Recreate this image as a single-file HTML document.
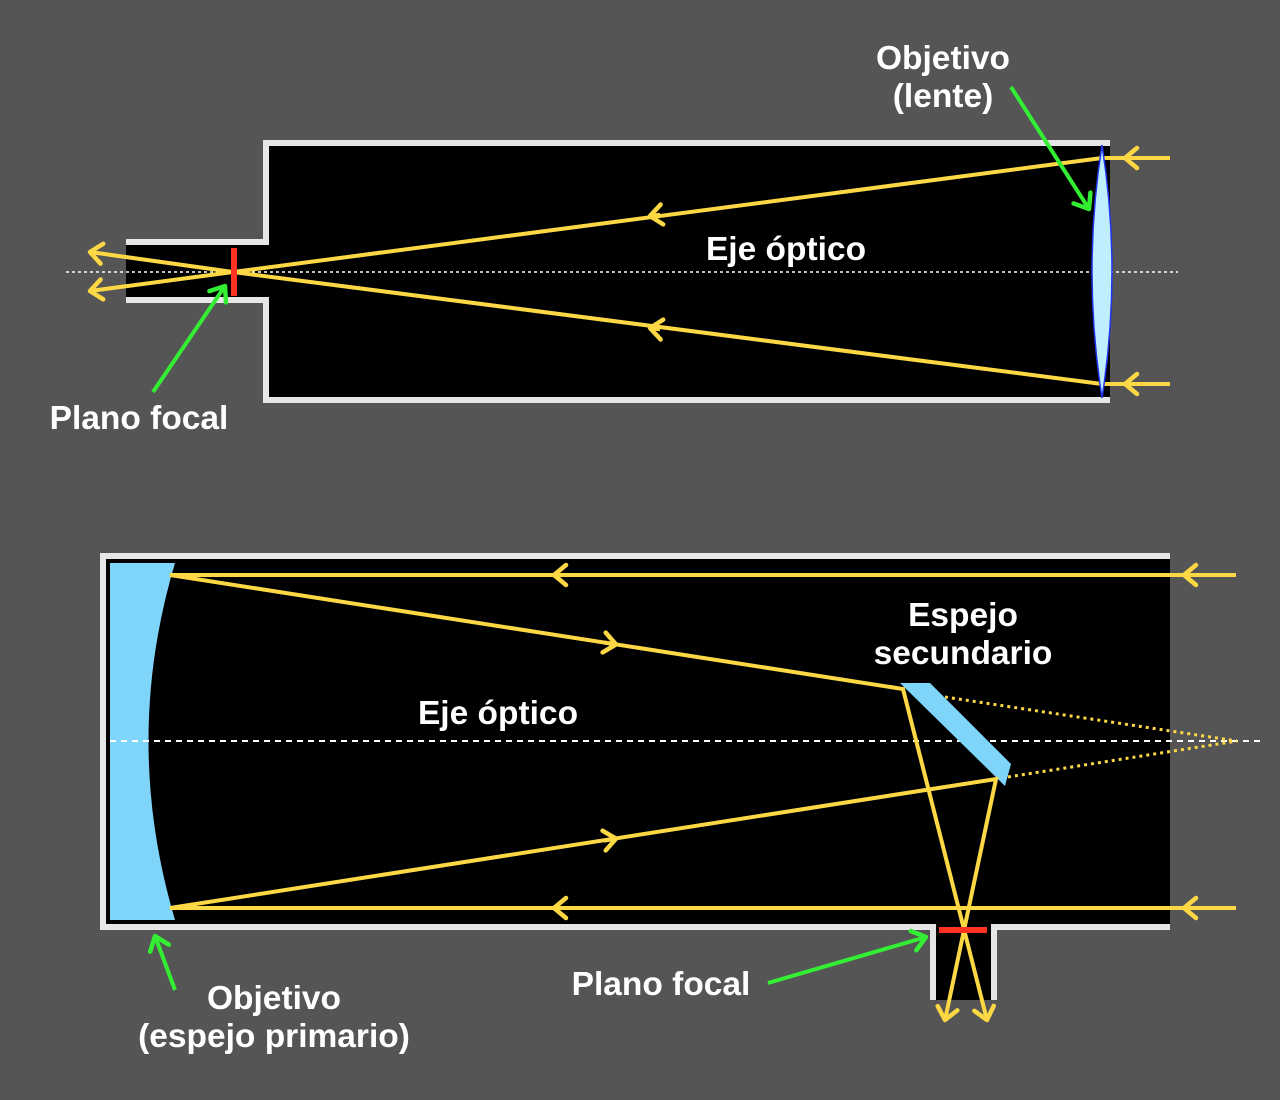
<!DOCTYPE html>
<html><head><meta charset="utf-8"><style>
html,body{margin:0;padding:0;background:#555555;}
svg{display:block}
text{font-family:"Liberation Sans",sans-serif;font-weight:bold;font-size:33.5px;fill:#fff;}
</style></head><body>
<svg width="1280" height="1100" viewBox="0 0 1280 1100" xmlns="http://www.w3.org/2000/svg">
<defs>
<marker id="cy" markerUnits="userSpaceOnUse" markerWidth="30" markerHeight="30" refX="0" refY="0" viewBox="-15 -15 30 30" orient="auto" overflow="visible">
<path d="M-12,-10 L0,0 L-12,10" fill="none" stroke="#fcd845" stroke-width="4.5" stroke-linecap="round" stroke-linejoin="round"/>
</marker>
<marker id="cg" markerUnits="userSpaceOnUse" markerWidth="30" markerHeight="30" refX="0" refY="0" viewBox="-15 -15 30 30" orient="auto" overflow="visible">
<path d="M-13,-10 L0,0 L-13,10" fill="none" stroke="#33ee33" stroke-width="4.5" stroke-linecap="round" stroke-linejoin="round"/>
</marker>
</defs>
<rect width="1280" height="1100" fill="#555555"/>

<!-- TOP TELESCOPE -->
<path d="M1110,143 L266,143 L266,242 L126,242 L126,300 L266,300 L266,400 L1110,400 Z" fill="#000"/>
<path d="M1110,143 L266,143 L266,242 L126,242 M126,300 L266,300 L266,400 L1110,400" fill="none" stroke="#e6e6e6" stroke-width="6"/>
<line x1="66" y1="272" x2="1178" y2="272" stroke="#fff" stroke-width="1.5" stroke-dasharray="3,3"/>
<g stroke="#fcd845" stroke-width="4" fill="none">
<polyline points="1170,158 1102,158 233,272 90,291" marker-end="url(#cy)"/>
<polyline points="1170,384 1102,384 233,272 90,252" marker-end="url(#cy)"/>
<path d="M1135,158 L1125,158" marker-end="url(#cy)"/>
<path d="M1135,384 L1125,384" marker-end="url(#cy)"/>
<path d="M660,214.7 L650,216" marker-end="url(#cy)"/>
<path d="M660,329.3 L650,328" marker-end="url(#cy)"/>
</g>
<rect x="231" y="248" width="6" height="48" fill="#ff3322"/>
<path d="M1102,145 Q1082,271 1102,398 Q1122,271 1102,145 Z" fill="#bfeeff" stroke="#2233ee" stroke-width="1.5"/>
<path d="M153,392 L225,286" stroke="#33ee33" stroke-width="4" fill="none" marker-end="url(#cg)"/>
<path d="M1011,87 L1089,209" stroke="#33ee33" stroke-width="4" fill="none" marker-end="url(#cg)"/>
<text x="943" y="69" text-anchor="middle">Objetivo</text>
<text x="943" y="107" text-anchor="middle">(lente)</text>
<text x="786" y="260" text-anchor="middle">Eje óptico</text>
<text x="139" y="429" text-anchor="middle">Plano focal</text>

<!-- BOTTOM TELESCOPE -->
<path d="M1170,556 L103,556 L103,927 L933,927 L933,1000 L994,1000 L994,927 L1170,927 Z" fill="#000"/>
<path d="M1170,556 L103,556 L103,927 L933,927 L933,1000 M994,1000 L994,927 L1170,927" fill="none" stroke="#e6e6e6" stroke-width="6"/>
<path d="M110,563 L175,563 Q122,741 175,920 L110,920 Z" fill="#7fd4fa"/>
<line x1="110" y1="741" x2="1260" y2="741" stroke="#fff" stroke-width="2" stroke-dasharray="6,5"/>
<g stroke="#fcd845" stroke-width="3" stroke-dasharray="3,4" fill="none">
<line x1="945" y1="697" x2="1237" y2="741"/>
<line x1="1008" y1="777" x2="1237" y2="741"/>
</g>
<polygon points="900,683 930,683 1011,764 1005,786" fill="#7fd4fa"/>
<g stroke="#fcd845" stroke-width="4" fill="none">
<polyline points="1236,575 170,575 903,689 987,1020" marker-end="url(#cy)"/>
<polyline points="1236,908 170,908 996,779 945,1020" marker-end="url(#cy)"/>
<path d="M1196,575 L1184,575" marker-end="url(#cy)"/>
<path d="M1196,908 L1184,908" marker-end="url(#cy)"/>
<path d="M566,575 L554,575" marker-end="url(#cy)"/>
<path d="M566,908 L554,908" marker-end="url(#cy)"/>
<path d="M604,642.5 L616,644.4" marker-end="url(#cy)"/>
<path d="M604,840.6 L616,838.7" marker-end="url(#cy)"/>
</g>
<rect x="939" y="927" width="48" height="6" fill="#ff3322"/>
<path d="M175,990 L155,936" stroke="#33ee33" stroke-width="4" fill="none" marker-end="url(#cg)"/>
<path d="M768,983 L926,937" stroke="#33ee33" stroke-width="4" fill="none" marker-end="url(#cg)"/>
<text x="963" y="626" text-anchor="middle">Espejo</text>
<text x="963" y="664" text-anchor="middle">secundario</text>
<text x="498" y="724" text-anchor="middle">Eje óptico</text>
<text x="661" y="995" text-anchor="middle">Plano focal</text>
<text x="274" y="1009" text-anchor="middle">Objetivo</text>
<text x="274" y="1047" text-anchor="middle">(espejo primario)</text>
</svg>
</body></html>
